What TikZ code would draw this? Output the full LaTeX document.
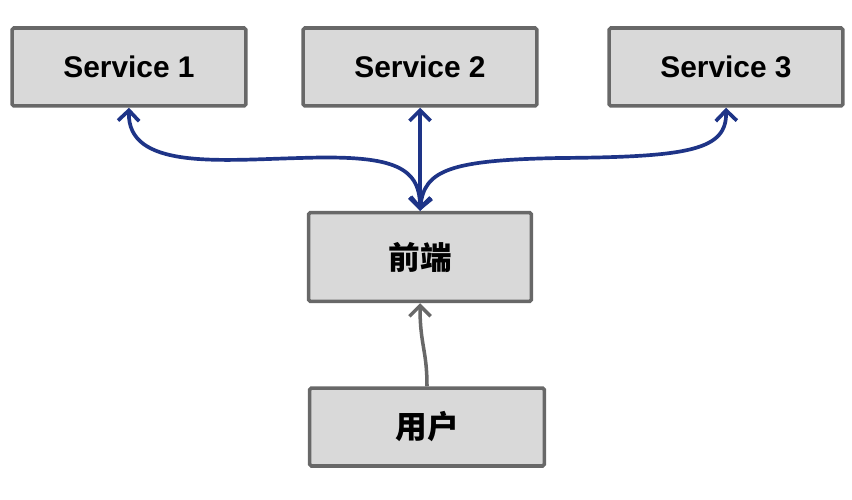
\documentclass[tikz,border=0pt]{standalone}
\usepackage{fontspec}
\setmainfont{Liberation Sans}
\newfontfamily\cjk{Noto Sans CJK SC}
\usetikzlibrary{arrows.meta}
\definecolor{boxgray}{RGB}{217, 217, 217}
\definecolor{edgegray}{RGB}{104, 104, 104}
\definecolor{linkblue}{RGB}{30, 52, 135}

\begin{document}
\begin{tikzpicture}[x=0.02cm, y=-0.02cm,
    box/.style={draw=edgegray, fill=boxgray, line width=2pt, rounded corners=1pt,
                inner sep=0pt, minimum width=4.68cm, minimum height=1.56cm,
                font=\fontsize{17}{20}\selectfont\bfseries},
    link/.style={linkblue, line width=2.1pt, {Straight Barb[length=6pt,width=12pt]}-{Straight Barb[length=6pt,width=12pt]}}]
    \useasboundingbox (0,0) rectangle (852,500);
    \node[box] (S1) at (129,67) {Service 1};
    \node[box] (S2) at (420,67) {Service 2};
    \node[box] (S3) at (726,67) {Service 3};
    \node[box, minimum width=4.46cm, minimum height=1.78cm, font=\fontsize{18}{20}\selectfont\bfseries] (FE) at (420,257) {\cjk 前端};
    \node[box, minimum width=4.7cm, font=\fontsize{18}{20}\selectfont\bfseries] (U) at (427,427) {\cjk 用户};
    \draw[link] (S1.south) .. controls (127,170) and (220,160) .. (300,158)
                           .. controls (390,155) and (420,165) .. (FE.north);
    \draw[link] (S2.south) -- (FE.north);
    \draw[link] (S3.south) .. controls (727,150) and (690,157) .. (560,158)
                           .. controls (450,160) and (424,170) .. (FE.north);
    \draw[edgegray, line width=2pt, -{Straight Barb[length=6pt,width=12pt]}]
        (U.north) .. controls (427,350) and (420,345) .. (FE.south);
\end{tikzpicture}
\end{document}
